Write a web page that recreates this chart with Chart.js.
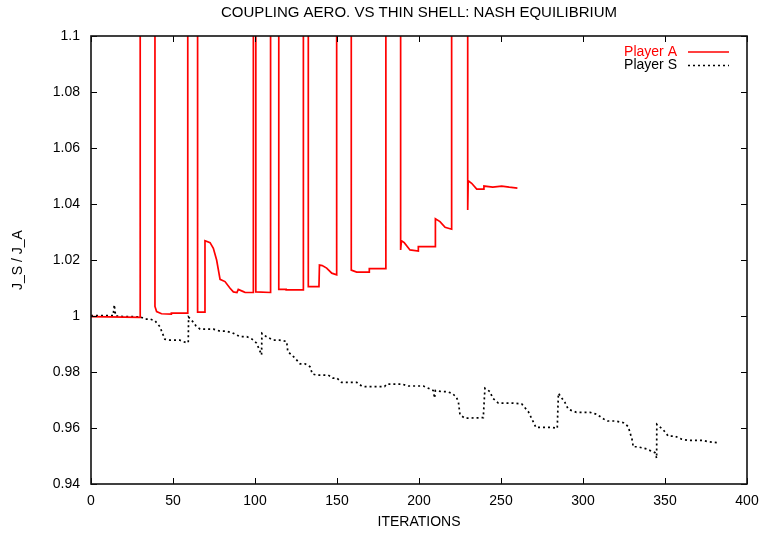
<!DOCTYPE html>
<html>
<head>
<meta charset="utf-8">
<script src="https://cdn.jsdelivr.net/npm/chart.js@4/dist/chart.umd.min.js"></script>
<style>
  body { margin: 0; background: #fff; }
  canvas { display: block; }
</style>
</head>
<body>
<canvas id="chart" width="765" height="533"></canvas>
<script>
// values above the axis top (off scale in the original run)
const OFF = 1.2;

// Player A: iteration / J ratio
const aIter = [0, 30, 30, 39, 39, 40, 43, 49, 49, 59, 59, 65, 65, 69.5, 69.5, 72.6, 74.6, 76.6, 78.7, 81.7, 84.8, 86.8, 89, 89.8, 92.9, 94, 99, 99, 100.5, 100.5, 109.5, 109.5, 114.5, 114.5, 119, 119, 129.5, 129.5, 132.5, 132.5, 139, 139.3, 141, 143.7, 146.8, 149.8, 149.8, 158.7, 158.7, 162, 169.7, 169.7, 179.8, 179.8, 188.8, 188.8, 189.3, 191, 194.5, 199.6, 199.6, 210, 210, 212.8, 215.9, 219.9, 219.9, 229.7, 229.7, 230, 232.1, 235.2, 239.6, 239.6, 245, 250.4, 255, 260];
const aVal = [0.9998, 0.9995, OFF, OFF, 1.0034, 1.0016, 1.0008, 1.0007, 1.001, 1.001, OFF, OFF, 1.0014, 1.0014, 1.0269, 1.0262, 1.0242, 1.02, 1.0131, 1.0123, 1.0099, 1.0086, 1.0084, 1.0095, 1.0087, 1.0084, 1.0084, OFF, OFF, 1.0086, 1.0084, OFF, OFF, 1.0095, 1.0095, 1.0093, 1.0093, OFF, OFF, 1.0105, 1.0105, 1.0182, 1.018, 1.0171, 1.0153, 1.0147, OFF, OFF, 1.0164, 1.0157, 1.0157, 1.0169, 1.0169, OFF, OFF, 1.0236, 1.0269, 1.0262, 1.0236, 1.0232, 1.0248, 1.0248, 1.0347, 1.0337, 1.0317, 1.031, OFF, OFF, 1.0379, 1.0483, 1.0474, 1.0453, 1.0453, 1.0464, 1.046, 1.0464, 1.046, 1.0457];

// Player S: iteration / J ratio
const sIter = [0, 13.5, 14.2, 15, 20, 30, 33, 36, 39, 42, 45, 48, 54, 58, 59.3, 59.5, 62.4, 64, 66.5, 74.6, 78.7, 81.7, 85.8, 90.9, 95, 98, 101, 104, 104.2, 107, 111, 115, 119.3, 120, 124, 127.5, 130.5, 133.5, 135, 137.6, 144.7, 147.6, 150, 152.8, 162, 165, 167, 179, 180.3, 189.4, 193.5, 202.6, 205.7, 208.7, 209.5, 210, 213.8, 216.9, 220, 222.6, 224, 225, 228, 239.2, 240.2, 243.3, 244.9, 248.4, 257.5, 262.6, 266.7, 269.7, 271.3, 280.9, 284.3, 285, 289, 291, 296, 304.3, 308.4, 313.4, 315, 319.5, 324.6, 327.6, 330.3, 330.5, 333.5, 338.8, 343.9, 344.9, 345, 349, 352, 356, 360.2, 364, 373, 376.4, 382.5];
const sVal = [1.0001, 1.0001, 1.004, 1.0, 0.9998, 0.9997, 0.9989, 0.9989, 0.9983, 0.9962, 0.9917, 0.9914, 0.9914, 0.9905, 0.9905, 0.9996, 0.9978, 0.9965, 0.9953, 0.9953, 0.9946, 0.9946, 0.9941, 0.9926, 0.9926, 0.9918, 0.9903, 0.9861, 0.9938, 0.9926, 0.9914, 0.9914, 0.9909, 0.9873, 0.9852, 0.9829, 0.9829, 0.9819, 0.9793, 0.9789, 0.9789, 0.9778, 0.9778, 0.9763, 0.9763, 0.975, 0.9748, 0.9748, 0.9757, 0.9757, 0.975, 0.975, 0.9742, 0.9734, 0.9707, 0.9734, 0.973, 0.973, 0.9724, 0.9712, 0.9694, 0.9647, 0.9635, 0.9637, 0.9742, 0.973, 0.9707, 0.9689, 0.9689, 0.9686, 0.9658, 0.9622, 0.9602, 0.9602, 0.9599, 0.9724, 0.9691, 0.9667, 0.9656, 0.9656, 0.9649, 0.9629, 0.9625, 0.9625, 0.9619, 0.9605, 0.9551, 0.9533, 0.9533, 0.9525, 0.9512, 0.9492, 0.9613, 0.9593, 0.9571, 0.9571, 0.956, 0.9556, 0.9556, 0.9551, 0.9547];

// ticks
const xTicks = [0, 50, 100, 150, 200, 250, 300, 350, 400];
const yTicks = [0.94, 0.96, 0.98, 1.0, 1.02, 1.04, 1.06, 1.08, 1.1];
const yTickLabels = ['0.94', '0.96', '0.98', '1', '1.02', '1.04', '1.06', '1.08', '1.1'];

const FONT = 'Liberation Sans, Arial, sans-serif';

function toPoints(xs, ys) {
    return xs.map((x, i) => ({ x: x, y: ys[i] }));
}

// gnuplot style frame with inward ticks on all sides
const framePlugin = {
    id: 'frame',
    afterDatasetsDraw(chart) {
        const { ctx, chartArea: a, scales } = chart;
        const len = 6;
        ctx.save();
        ctx.strokeStyle = '#000';
        ctx.lineWidth = 1;
        ctx.beginPath();
        scales.x.ticks.forEach(t => {
            const px = Math.round(scales.x.getPixelForValue(t.value)) + 0.5;
            ctx.moveTo(px, a.bottom); ctx.lineTo(px, a.bottom - len);
            ctx.moveTo(px, a.top); ctx.lineTo(px, a.top + len);
        });
        scales.y.ticks.forEach(t => {
            const py = Math.round(scales.y.getPixelForValue(t.value)) + 0.5;
            ctx.moveTo(a.left, py); ctx.lineTo(a.left + len, py);
            ctx.moveTo(a.right, py); ctx.lineTo(a.right - len, py);
        });
        ctx.stroke();
        ctx.lineWidth = 1.6;
        ctx.strokeStyle = '#111';
        ctx.strokeRect(a.left, a.top, a.right - a.left, a.bottom - a.top);
        ctx.restore();
    }
};

// key in the upper right corner: text then line sample
const keyPlugin = {
    id: 'key',
    afterDraw(chart) {
        const { ctx, chartArea: a } = chart;
        ctx.save();
        ctx.font = '14px ' + FONT;
        ctx.textAlign = 'right';
        ctx.textBaseline = 'middle';
        chart.data.datasets.forEach((ds, i) => {
            const y = a.top + 16 + i * 13.5;
            ctx.fillStyle = ds.keyColor;
            ctx.fillText(ds.label, a.right - 70, y);
            ctx.strokeStyle = ds.borderColor;
            ctx.lineWidth = ds.borderWidth;
            ctx.setLineDash(ds.borderDash || []);
            ctx.beginPath();
            ctx.moveTo(a.right - 59, y);
            ctx.lineTo(a.right - 18, y);
            ctx.stroke();
        });
        ctx.restore();
    }
};

const ctx = document.getElementById('chart').getContext('2d');
const chart = new Chart(ctx, {
    type: 'line',
    data: {
        datasets: [{
            label: 'Player A',
            data: toPoints(aIter, aVal),
            borderColor: '#ff0000',
            keyColor: '#ff0000',
            borderWidth: 1.7,
            pointRadius: 0,
            tension: 0,
            clip: 0
        }, {
            label: 'Player S',
            data: toPoints(sIter, sVal),
            borderColor: '#000000',
            keyColor: '#000000',
            borderWidth: 1.7,
            borderDash: [2, 3],
            pointRadius: 0,
            tension: 0,
            clip: 0
        }]
    },
    options: {
        responsive: false,
        animation: false,
        layout: { padding: { left: 0, right: 18, top: 0, bottom: 0 } },
        plugins: {
            legend: { display: false },
            tooltip: { enabled: false },
            title: {
                display: true,
                text: 'COUPLING AERO. VS THIN SHELL: NASH EQUILIBRIUM',
                fullSize: false,
                color: '#000',
                font: { family: FONT, size: 15, weight: 'normal' },
                padding: { top: 4, bottom: 14 }
            }
        },
        scales: {
            x: {
                type: 'linear',
                min: 0,
                max: 400,
                afterBuildTicks: s => { s.ticks = xTicks.map(v => ({ value: v })); },
                afterFit: s => { s.height = 49; s.paddingLeft = 0; s.paddingRight = 0; },
                grid: { display: false, drawTicks: false },
                border: { display: false },
                ticks: { color: '#000', padding: 9, font: { family: FONT, size: 14 }, maxRotation: 0 },
                title: {
                    display: true,
                    text: 'ITERATIONS',
                    color: '#000',
                    font: { family: FONT, size: 14 },
                    padding: { top: 0, bottom: 2 }
                }
            },
            y: {
                min: 0.94,
                max: 1.1,
                afterBuildTicks: s => { s.ticks = yTicks.map(v => ({ value: v })); },
                afterFit: s => { s.width = 91; },
                grid: { display: false, drawTicks: false },
                border: { display: false },
                ticks: {
                    color: '#000',
                    padding: 11,
                    font: { family: FONT, size: 14 },
                    callback: (v, i) => yTickLabels[i]
                },
                title: {
                    display: true,
                    text: 'J_S / J_A',
                    color: '#000',
                    font: { family: FONT, size: 14 },
                    padding: { top: 10, bottom: 0 }
                }
            }
        }
    },
    plugins: [framePlugin, keyPlugin]
});
</script>
</body>
</html>
